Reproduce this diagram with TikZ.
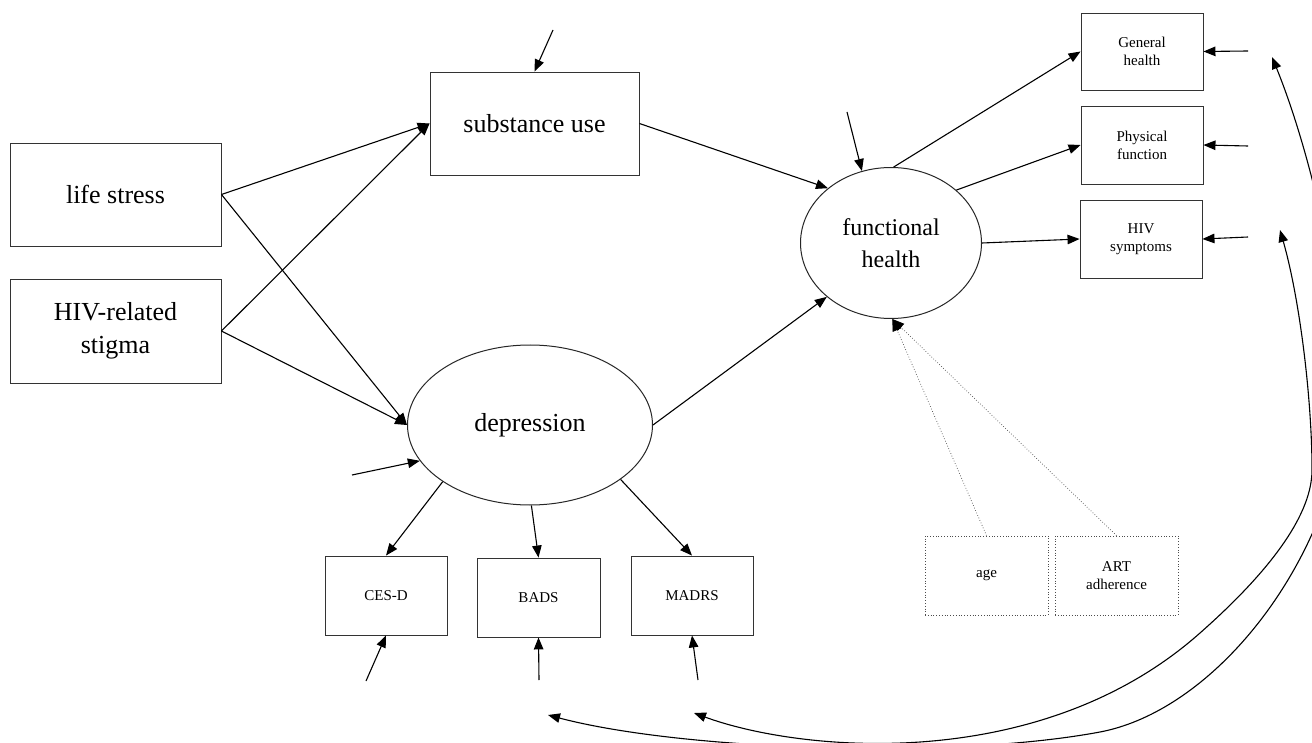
\documentclass[tikz,border=0pt]{standalone}
\usepackage{fontspec}
\setmainfont{Liberation Serif}
\usetikzlibrary{arrows.meta,shapes.geometric}
\tikzset{
  box/.style={draw=black!80, line width=0.9pt, inner sep=0pt, align=center},
  bigtxt/.style={font=\fontsize{26}{33}\selectfont},
  midtxt/.style={font=\fontsize{24}{32}\selectfont},
  smalltxt/.style={font=\fontsize{15}{18}\selectfont},
  latent/.style={draw=black!85, line width=1pt, ellipse, inner sep=0pt, align=center},
  dotbox/.style={draw=black!70, line width=0.8pt, dotted, inner sep=0pt, align=center},
  conn/.style={line width=1.1pt, -{Triangle[length=12pt,width=9.5pt]}},
  dconn/.style={line width=0.7pt, black!70, dotted, -{Triangle[length=12pt,width=9.5pt,fill=black,color=black]}},
  cov/.style={line width=1.1pt, {Triangle[length=12pt,width=9.5pt]}-{Triangle[length=12pt,width=9.5pt]}},
}
\begin{document}
\begin{tikzpicture}[x=1pt,y=-1pt]
\useasboundingbox (0,0) rectangle (1312,743);
\clip (0,0) rectangle (1312,743);
\fill[white] (0,0) rectangle (1312,743);

% observed boxes
\node[box,bigtxt,minimum width=211pt,minimum height=103pt] (ls) at (115.5,194.5) {life stress};
\node[box,bigtxt,minimum width=211pt,minimum height=104pt] (hs) at (115.5,331) {HIV-related\\stigma};
\node[box,bigtxt,minimum width=209pt,minimum height=103pt] (su) at (534.5,123.5) {substance use};

\node[box,smalltxt,minimum width=122pt,minimum height=77pt] (gh) at (1142,51.5) {General\\health};
\node[box,smalltxt,minimum width=122pt,minimum height=78pt] (pf) at (1142,145) {Physical\\function};
\node[box,smalltxt,minimum width=122pt,minimum height=78pt] (hsy) at (1141,239) {HIV\\symptoms};

\node[box,smalltxt,minimum width=122pt,minimum height=79pt] (cesd) at (386,595.5) {CES-D};
\node[box,smalltxt,minimum width=123pt,minimum height=79pt] (bads) at (538.5,597.5) {BADS};
\node[box,smalltxt,minimum width=122pt,minimum height=79pt] (madrs) at (692,595.5) {MADRS};

\node[dotbox,smalltxt,minimum width=123pt,minimum height=79pt] (age) at (986.5,575.5) {age};
\node[dotbox,smalltxt,minimum width=123pt,minimum height=79pt] (art) at (1116.5,575.5) {ART\\adherence};

% latent
\node[latent,bigtxt,minimum width=245pt,minimum height=160pt] (dep) at (530,425) {depression};
\node[latent,midtxt,minimum width=181pt,minimum height=151pt] (fh) at (891,243) {functional\\health};

% free ends
\coordinate (e1) at (553,30);
\coordinate (e2) at (847,112);
\coordinate (e3) at (352,475);
\coordinate (e4) at (366,681);
\coordinate (e5) at (539,680);
\coordinate (e6) at (698,680);
\coordinate (e7) at (1248,51);
\coordinate (e8) at (1248,146);
\coordinate (e9) at (1248,237);
\coordinate (c1a) at (548,715);
\coordinate (c1b) at (1272,57);
\coordinate (c2a) at (694,713);
\coordinate (c2b) at (1280,230);

% structural paths
\draw[conn] (ls.east) -- (su.west);
\draw[conn] (hs.east) -- (su.west);
\draw[conn] (ls.east) -- (dep.west);
\draw[conn] (hs.east) -- (dep.west);
\draw[conn] (su.east) -- (fh.139);
\draw[conn] (dep.east) -- (fh.220);

% measurement
\draw[conn] (fh.88) -- (gh.west);
\draw[conn] (fh.39) -- (pf.west);
\draw[conn] (fh.east) -- (hsy.west);
\draw[conn] (dep.213) -- (cesd.north);
\draw[conn] (dep.271) -- (bads.north);
\draw[conn] (dep.329) -- (madrs.north);

% disturbances / errors
\draw[conn] (e1) -- (su.north);
\draw[conn] (e2) -- (fh.112);
\draw[conn] (e3) -- (dep.198);
\draw[conn] (e4) -- (cesd.south);
\draw[conn] (e5) -- (bads.south);
\draw[conn] (e6) -- (madrs.south);
\draw[conn] (e7) -- (gh.east);
\draw[conn] (e8) -- (pf.east);
\draw[conn] (e9) -- (hsy.east);

% covariates
\draw[dconn] (age.north) -- (fh.271);
\draw[dconn] (art.north) -- (fh.271);

% residual covariances
\draw[cov] (c1a) .. controls (680,750) and (950,760) .. (1100,732)
               .. controls (1200,713) and (1300,600) .. (1335,470)
               .. controls (1362,370) and (1318,170) .. (c1b);
\draw[cov] (c2a) .. controls (800,752) and (1040,775) .. (1200,633)
               .. controls (1260,580) and (1312,520) .. (1312,470)
               .. controls (1312,400) and (1300,300) .. (c2b);
\end{tikzpicture}
\end{document}
